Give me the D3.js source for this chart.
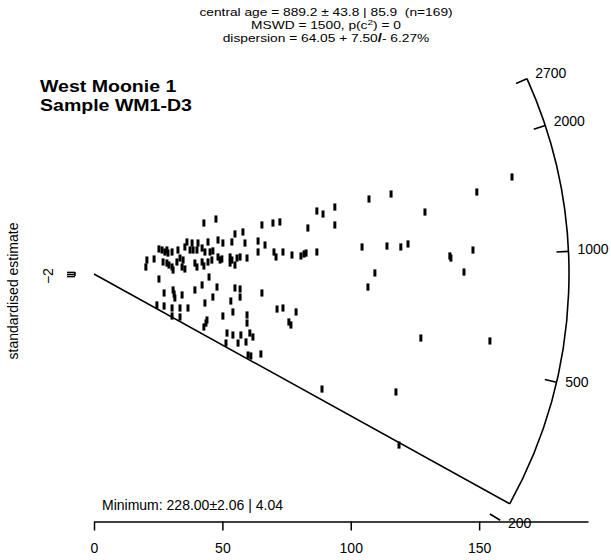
<!DOCTYPE html>
<html>
<head>
<meta charset="utf-8">
<title>Radial plot WM1-D3</title>
<style>
  body { margin: 0; background: #fff; }
  svg text { font-family: "Liberation Sans", Arial, Helvetica, sans-serif; fill: #000; }
  .axis path, .axis line { stroke: #000; stroke-width: 1.5; }
  .axis text { font-size: 14px; font-family: "Liberation Sans", Arial, sans-serif; }
</style>
<script src="https://d3js.org/d3.v7.min.js"></script>
</head>
<body>
<svg width="611" height="560"></svg>
<script>

// precision (1/sigma) and standardised estimate of each grain
var precision = [
  162.8, 149.1, 115.7, 107.1, 93.8, 86.8, 89.2, 128.9, 72.4, 83.3,
  93.8, 73.6, 77.1, 80.6, 81.8, 82.6, 86.8, 104.4, 114.1, 119.5,
  122.3, 138.6, 139.0, 147.6, 144.1, 109.4, 106.7, 42.8, 47.5, 65.4,
  69.7, 54.9, 58.0, 63.9, 66.6, 58.8, 53.7, 50.2, 48.3, 44.4,
  40.5, 38.2, 36.2, 35.4, 37.4, 38.6, 40.1, 42.1, 43.2, 45.2,
  46.3, 48.3, 49.1, 49.8, 53.0, 53.7, 55.7, 54.9, 56.9, 59.6,
  63.9, 70.1, 70.9, 25.3, 26.5, 27.6, 28.4, 28.8, 30.4, 32.7,
  33.5, 34.7, 23.4, 20.6, 20.2, 26.9, 28.4, 29.2, 30.4, 30.8,
  32.3, 34.3, 35.4, 39.3, 40.1, 42.1, 42.8, 44.4, 45.9, 53.0,
  25.3, 27.3, 30.8, 31.5, 31.2, 34.3, 42.1, 44.8, 39.3, 47.9,
  46.3, 43.2, 54.9, 56.9, 56.9, 53.3, 65.4, 24.5, 27.3, 30.4,
  30.4, 33.5, 33.5, 36.6, 42.8, 43.6, 44.0, 50.2, 54.1, 59.6,
  59.6, 51.8, 54.1, 57.2, 56.1, 59.2, 60.7, 61.9, 51.4, 60.0,
  61.1, 65.0, 71.3, 73.6, 78.7, 75.9, 76.7, 127.3, 154.2, 88.8,
  117.6, 118.8
];
var standardised = [
  93.0, 78.6, 76.7, 71.9, 64.2, 60.4, 57.5, 59.4, 49.9, 44.1,
  47.0, 21.1, 18.2, 17.3, 19.2, 20.1, 21.1, 25.9, 26.8, 25.9,
  28.8, 17.3, 15.3, 23.0, 1.9, 1.0, -12.5, 48.9, 52.7, 47.0,
  48.9, 38.4, 40.3, 31.6, 27.8, 29.7, 30.7, 29.7, 32.6, 30.7,
  29.7, 29.7, 30.7, 25.9, 23.0, 23.0, 23.0, 24.9, 21.1, 21.1,
  22.1, 16.3, 13.4, 14.4, 16.3, 13.4, 15.3, 8.6, 16.3, 15.3,
  21.1, 21.1, 16.3, 24.0, 23.0, 21.1, 23.0, 20.1, 21.1, 23.0,
  15.3, 13.4, 14.4, 13.4, 6.7, 11.5, 10.5, 8.6, 6.7, 3.8,
  11.5, 6.7, 4.8, 10.5, 6.7, 11.5, 7.7, 11.5, 13.4, 10.5,
  -4.8, -18.2, -15.3, -23.0, -19.2, -20.1, -10.5, -2.9, -15.3, -12.5,
  -22.1, -27.8, -13.4, -14.4, -22.1, -25.9, -18.2, -29.7, -30.7, -32.6,
  -40.3, -32.6, -41.2, -32.6, -50.8, -47.0, -44.1, -40.3, -36.4, -39.3,
  -47.0, -56.6, -58.5, -58.5, -66.2, -65.2, -56.6, -60.4, -66.2, -77.7,
  -78.6, -76.7, -33.6, -32.6, -36.4, -46.0, -48.9, -61.4, -64.2, -110.3,
  -113.1, -164.0
];

var xTicks = [0, 50, 100, 150];
var yTicks = [-2, 0, 2];
var ageTicks = [200, 500, 1000, 2000, 2700];
var centralAge = 889.2;
var minAge = 228.0;
var maxAge = 2700;
var rArc = 185;   // radius of the age scale, in precision units

var svg = d3.select("svg");

var x = d3.scaleLinear().domain([0, 192.4]).range([94, 588]);
var ox = x(0), oy = 274, sy = 1.043;
var y = d3.scaleLinear().domain([-250, 250]).range([oy + 250 * sy, oy - 250 * sy]);
var sx = x(1) - x(0);
var z0 = Math.log(centralAge);
var R = x(rArc) - x(0);

// angle of the ray for age t, in screen space (counter-clockwise, y up)
function theta(t) {
  return Math.atan((Math.log(t) - z0) * (y(0) - y(1)) / sx);
}
function onRay(t, r) {
  var a = theta(t);
  return [ox + r * Math.cos(a), oy - r * Math.sin(a)];
}

// axes
svg.append("g")
   .attr("class", "axis")
   .attr("transform", "translate(0,521.5)")
   .call(d3.axisBottom(x).tickValues(xTicks).tickSize(9).tickSizeOuter(0).tickPadding(13));

var yAxis = svg.append("g")
   .attr("class", "axis")
   .attr("transform", "translate(75,0)")
   .call(d3.axisLeft(y).tickValues(yTicks).tickSize(8).tickSizeOuter(0).tickFormat(""));
// axis line only spans the ticks
yAxis.select(".domain").remove();
yAxis.append("line")
     .attr("y1", y(d3.min(yTicks))).attr("y2", y(d3.max(yTicks)))
     .attr("stroke", "#000").attr("stroke-width", 1.5);

// the -2, 0 and 2 labels overlap, only the first one gets printed
svg.append("text")
   .attr("transform", "translate(53," + y(yTicks[0]) + ") rotate(-90)")
   .attr("text-anchor", "middle")
   .style("font-size", "14px")
   .text("\u2212" + Math.abs(yTicks[0]));

svg.append("text")
   .attr("transform", "translate(18,291) rotate(-90)")
   .attr("text-anchor", "middle")
   .style("font-size", "14px")
   .text("standardised estimate");

// age arc
var p = d3.path();
p.arc(ox, oy, R, -theta(maxAge), -theta(minAge));
svg.append("path")
   .attr("d", p.toString())
   .attr("fill", "none")
   .attr("stroke", "#000")
   .attr("stroke-width", 1.6);

var tick = svg.append("g").selectAll("g").data(ageTicks).join("g");
tick.append("line")
    .attr("x1", function(d) { return onRay(d, R - 12)[0]; })
    .attr("y1", function(d) { return onRay(d, R - 12)[1]; })
    .attr("x2", function(d) { return onRay(d, R)[0]; })
    .attr("y2", function(d) { return onRay(d, R)[1]; })
    .attr("stroke", "#000")
    .attr("stroke-width", 1.6);
tick.append("text")
    .attr("x", function(d) { return onRay(d, R + 9)[0]; })
    .attr("y", function(d) { return onRay(d, R + 9)[1] - 2; })
    .attr("dy", "0.35em")
    .style("font-size", "14px")
    .text(function(d) { return d; });

// minimum age line
var mEnd = onRay(minAge, R);
svg.append("line")
   .attr("x1", ox).attr("y1", oy)
   .attr("x2", mEnd[0]).attr("y2", mEnd[1])
   .attr("stroke", "#000")
   .attr("stroke-width", 1.6);

// grains, drawn as +-2 error bars
svg.append("g").selectAll("line")
   .data(precision)
   .join("line")
   .attr("x1", function(d) { return x(d); })
   .attr("x2", function(d) { return x(d); })
   .attr("y1", function(d, i) { return y(standardised[i] - 2); })
   .attr("y2", function(d, i) { return y(standardised[i] + 2); })
   .attr("stroke", "#000")
   .attr("stroke-width", 3)
   .attr("stroke-linecap", "square");

// text set in a slightly wide face, lines close together
function wideText(xx, yy, size, stretch, anchor) {
  return svg.append("g")
            .attr("transform", "translate(" + xx + "," + yy + ") scale(" + stretch + ",1)")
            .append("text")
            .attr("text-anchor", anchor)
            .style("font-size", size + "px");
}

headLine = function(yy) { return wideText(326, yy, 11, 1.25, "middle"); };
headLine(16).attr("xml:space", "preserve")
            .text("central age = 889.2 \u00b1 43.8 | 85.9  (n=169)");
var l2 = headLine(28.5);
l2.append("tspan").text("MSWD = 1500, p(c");
l2.append("tspan").attr("dy", -4).style("font-size", "8px").text("2");
l2.append("tspan").attr("dy", 4).text(") = 0");
var l3 = headLine(42);
l3.append("tspan").text("dispersion = 64.05 + 7.50");
l3.append("tspan").style("font-weight", "bold").style("font-size", "12px").text("/");
l3.append("tspan").text("- 6.27%");

wideText(40, 92, 17, 1.15, "start").style("font-weight", "bold").text("West Moonie 1");
wideText(40, 111, 17, 1.15, "start").style("font-weight", "bold").text("Sample WM1-D3");

svg.append("text").attr("x", 102).attr("y", 510)
   .style("font-size", "14px")
   .text("Minimum: 228.00\u00b12.06 | 4.04");

</script>
</body>
</html>
